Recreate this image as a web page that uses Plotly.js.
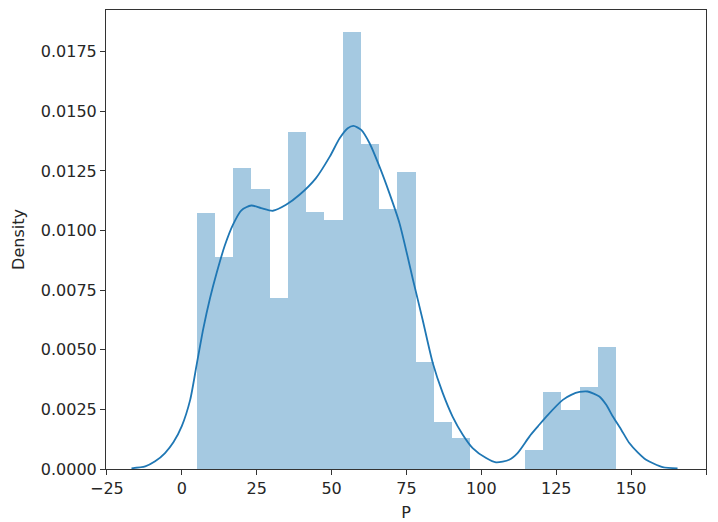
<!DOCTYPE html>
<html>
<head>
<meta charset="utf-8">
<script src="https://cdn.plot.ly/plotly-3.0.1.min.js"></script>
<style>html,body{margin:0;padding:0;background:#fff;}#chart{width:718px;height:522px;}</style>
</head>
<body>
<div id="chart"></div>
<script>
// Histogram of P (density-normalised), 23 equal bins between min and max
const binMin = 5;
const binMax = 145;
const nBins = 23;
const histDensity = [0.01073, 0.00891, 0.01264, 0.01175, 0.00718, 0.01415, 0.01078, 0.01046,
                     0.01832, 0.01363, 0.01090, 0.01247, 0.00448, 0.00197, 0.00132, 0, 0, 0,
                     0.00078, 0.00321, 0.00249, 0.00344, 0.00511];

// KDE curve
const kdeX = [-16.8, -12.2, -8.9, -5.6, -2.8, 0, 2.8, 5, 7.2, 9.4, 11.7, 14.3, 17.1, 19.9, 23.2,
              26.5, 30.4, 34.8, 39.3, 44.8, 49.4, 52.7, 55.4, 57.3, 59.9, 62.7, 66, 69.3, 72.7,
              77.2, 80.4, 83.8, 87.1, 90.4, 93.8, 97.1, 101.6, 104.9, 109.3, 112.1, 116.1, 118.9,
              121.7, 127.2, 130, 132.8, 135.5, 139.4, 141.7, 143.9, 146.7, 149.4, 152.2, 155,
              160.5, 165.5];
const kdeY = [0.00003, 0.00011, 0.00032, 0.00067, 0.00112, 0.00180, 0.00290, 0.00440, 0.00590,
              0.00715, 0.00825, 0.00935, 0.01025, 0.01085, 0.01105, 0.01094, 0.01083, 0.01108,
              0.01150, 0.01220, 0.01310, 0.01387, 0.01429, 0.01439, 0.01422, 0.01366, 0.01268,
              0.01157, 0.01030, 0.00793, 0.00626, 0.00444, 0.00319, 0.00220, 0.00144, 0.00088,
              0.00046, 0.00028, 0.00039, 0.00067, 0.00137, 0.00179, 0.00220, 0.00290, 0.00311,
              0.00323, 0.00325, 0.00304, 0.00269, 0.00220, 0.00165, 0.00109, 0.00070, 0.00039,
              0.00008, 0.00003];

const xTickVals = [-25, 0, 25, 50, 75, 100, 125, 150, 175];
const yTickVals = [0, 0.0025, 0.005, 0.0075, 0.01, 0.0125, 0.015, 0.0175];

const binWidth = (binMax - binMin) / nBins;
const binCenters = histDensity.map((_, i) => binMin + binWidth * (i + 0.5));

const font = {family: 'DejaVu Sans, sans-serif', size: 16, color: '#262626'};

const traces = [
  {
    type: 'bar',
    x: binCenters,
    y: histDensity,
    width: histDensity.map(() => binWidth),
    marker: {color: 'rgba(31,119,180,0.4)', line: {width: 0}},
    hoverinfo: 'x+y'
  },
  {
    type: 'scatter',
    mode: 'lines',
    x: kdeX,
    y: kdeY,
    line: {color: '#1f77b4', width: 1.8, shape: 'spline', smoothing: 0.7}
  }
];

const axisCommon = {
  showgrid: false,
  zeroline: false,
  showline: true,
  mirror: true,
  linecolor: '#333',
  linewidth: 1,
  ticks: 'outside',
  ticklen: 5,
  tickwidth: 1,
  tickcolor: '#333',
  tickfont: font
};

const layout = {
  width: 718,
  height: 522,
  margin: {l: 106, r: 12, t: 10, b: 53},
  paper_bgcolor: '#fff',
  plot_bgcolor: '#fff',
  showlegend: false,
  bargap: 0,
  font: font,
  xaxis: Object.assign({}, axisCommon, {
    range: [-25.3, 175],
    tickvals: xTickVals,
    title: {text: 'P', font: font, standoff: 9}
  }),
  yaxis: Object.assign({}, axisCommon, {
    range: [0, 0.01925],
    tickvals: yTickVals,
    tickformat: '.4f',
    title: {text: 'Density', font: font, standoff: 12}
  })
};

Plotly.newPlot('chart', traces, layout, {displayModeBar: false, staticPlot: true});
</script>
</body>
</html>
